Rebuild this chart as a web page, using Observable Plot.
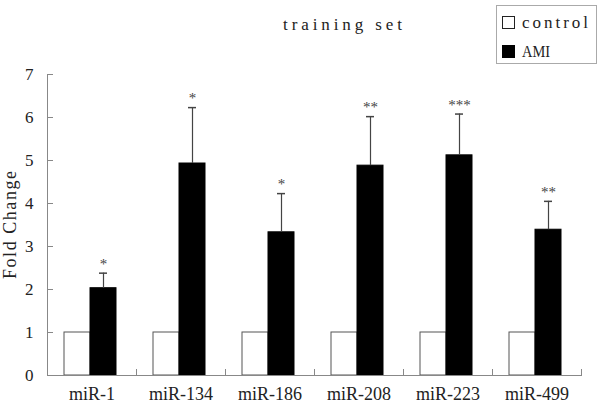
<!DOCTYPE html>
<html>
<head>
<meta charset="utf-8">
<script src="https://cdn.jsdelivr.net/npm/d3@7"></script>
<script src="https://cdn.jsdelivr.net/npm/@observablehq/plot@0.6"></script>
<style>
  html, body { margin: 0; padding: 0; background: #fff; }
  #wrap { position: relative; width: 600px; height: 406px; }
  #overlay { position: absolute; left: 0; top: 0; pointer-events: none; }
</style>
</head>
<body>
<div id="wrap">
  <div id="chart"></div>
  <svg id="overlay" width="600" height="406" font-family="Liberation Serif, serif" font-size="17" fill="#222">
    <text x="283" y="30" textLength="119" lengthAdjust="spacing">training set</text>
    <rect x="496.5" y="5.5" width="100" height="58" fill="#fff" stroke="#aaa"/>
    <rect x="502.5" y="16.5" width="12" height="12" fill="#fff" stroke="#222"/>
    <text x="522" y="28" textLength="66" lengthAdjust="spacing">control</text>
    <rect x="502.5" y="45.5" width="12" height="12" fill="#000" stroke="#000"/>
    <text x="522" y="57" textLength="28" lengthAdjust="spacingAndGlyphs">AMI</text>
    <text transform="translate(16,225) rotate(-90)" text-anchor="middle" font-size="18" textLength="108" lengthAdjust="spacing">Fold Change</text>
  </svg>
</div>
<script>
const genes = ["miR-1", "miR-134", "miR-186", "miR-208", "miR-223", "miR-499"];
const groups = ["control", "AMI"];
const controlValues = [1, 1, 1, 1, 1, 1];
const amiValues = [2.03, 4.93, 3.33, 4.88, 5.12, 3.39];
const amiErrors = [0.35, 1.30, 0.90, 1.14, 0.96, 0.66];
const significance = ["*", "*", "*", "**", "***", "**"];
const yTicks = [0, 1, 2, 3, 4, 5, 6, 7];

const rows = [];
genes.forEach((g, i) => {
  rows.push({gene: g, group: "control", value: controlValues[i]});
  rows.push({gene: g, group: "AMI", value: amiValues[i]});
});
const amiRows = genes.map((g, i) => ({
  gene: g, group: "AMI", value: amiValues[i],
  top: amiValues[i] + amiErrors[i], sig: significance[i]
}));

const gray = "#888";

const chart = Plot.plot({
  width: 600,
  height: 406,
  marginLeft: 45,
  marginRight: 18,
  marginTop: 74,
  marginBottom: 31,
  style: {fontFamily: "Liberation Serif, serif", fontSize: "17px", color: "#222", background: "#fff"},
  fx: {domain: genes, padding: 0, label: null},
  x: {domain: groups, paddingInner: 0, paddingOuter: 0.69, align: 0.46, axis: null},
  y: {domain: [0, 7]},
  marks: [
    Plot.barY(rows, {
      fx: "gene", x: "group", y: "value",
      fill: d => d.group === "AMI" ? "#000" : "#fff",
      stroke: d => d.group === "AMI" ? "#000" : "#555",
      strokeWidth: 1
    }),
    Plot.ruleX(amiRows, {fx: "gene", x: "group", y1: "value", y2: "top", stroke: "#444", strokeWidth: 1.2}),
    Plot.tickY(amiRows, {fx: "gene", x: "group", y: "top", stroke: "#444", strokeWidth: 1.5, inset: 9}),
    Plot.text(amiRows, {fx: "gene", x: "group", y: "top", text: "sig", dy: -9, fontSize: 15, fill: "#444"}),
    Plot.ruleY([0], {stroke: gray}),
    Plot.frame({anchor: "right", insetTop: 295, stroke: gray}),
    Plot.frame({anchor: "left", facetAnchor: "left-empty", stroke: gray}),
    Plot.axisY(yTicks, {anchor: "left", tickSize: 0, tickPadding: 14, fontSize: 17, fill: "#222", label: null}),
    Plot.axisY(yTicks, {anchor: "left", tickSize: 6, dx: 6, fill: "none", stroke: gray, label: null}),
    Plot.axisFx({anchor: "bottom", tickSize: 0, tickPadding: 12, fontSize: 18, label: null})
  ]
});
document.getElementById("chart").appendChild(chart);
</script>
</body>
</html>
